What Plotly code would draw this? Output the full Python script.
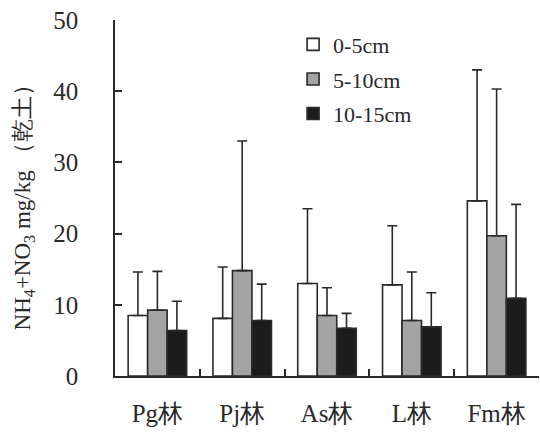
import plotly.graph_objects as go

categories = ["Pg林", "Pj林", "As林", "L林", "Fm林"]
series_names = ["0-5cm", "5-10cm", "10-15cm"]
vals_0_5 = [8.5, 8.1, 13.0, 12.8, 24.6]
err_0_5 = [6.1, 7.2, 10.5, 8.3, 18.4]
vals_5_10 = [9.25, 14.8, 8.5, 7.8, 19.7]
err_5_10 = [5.45, 18.2, 3.9, 6.8, 20.6]
vals_10_15 = [6.4, 7.8, 6.7, 6.9, 10.9]
err_10_15 = [4.1, 5.1, 2.1, 4.8, 13.2]
y_title = "NH<sub>4</sub>+NO<sub>3</sub> mg/kg （乾土）"

colors = ["#ffffff", "#a3a3a3", "#1c1c1c"]
vals = [vals_0_5, vals_5_10, vals_10_15]
errs = [err_0_5, err_5_10, err_10_15]

font_serif = "Liberation Serif"
ink = "#2a2a2a"

fig = go.Figure()
for i, name in enumerate(series_names):
    fig.add_trace(go.Bar(
        x=categories, y=vals[i], name=name,
        legendgroup=name,
        marker=dict(color=colors[i], line=dict(color=ink, width=1.6)),
        error_y=dict(type="data", array=errs[i], arrayminus=[0] * 5,
                     symmetric=False, color=ink, thickness=1.6, width=5),
    ))

fig.add_annotation(text=y_title, xref="paper", yref="paper",
                   x=-0.215, y=0.49, xanchor="center", yanchor="middle",
                   textangle=-90, showarrow=False,
                   font=dict(size=23, family=font_serif, color=ink))

fig.update_layout(
    width=540, height=436,
    margin=dict(l=115, r=1, t=20, b=60),
    paper_bgcolor="white", plot_bgcolor="white",
    barmode="group", bargap=0.31, bargroupgap=0,
    font=dict(family=font_serif, color=ink, size=24),
    showlegend=True,
    legend=dict(x=0.42, y=0.99, xanchor="left", yanchor="top",
                bgcolor="rgba(0,0,0,0)", font=dict(size=22, family=font_serif),
                tracegroupgap=3, itemwidth=30),
    xaxis=dict(showline=True, linecolor=ink, linewidth=1.6,
               ticks="inside", ticklen=7, tickcolor=ink, tickwidth=1.6,
               tickson="boundaries", ticklabelstandoff=14,
               tickfont=dict(size=25), range=[-0.5, 4.5]),
    yaxis=dict(range=[0, 50], dtick=10, showline=True, linecolor=ink, linewidth=1.6,
               ticks="inside", ticklen=7, tickcolor=ink, tickwidth=1.6,
               showgrid=False, zeroline=False, ticklabelstandoff=30,
               tickfont=dict(size=25)),
)

fig.write_html("out.html", config={"displayModeBar": False},
               post_script="document.body.style.margin='0px';")
